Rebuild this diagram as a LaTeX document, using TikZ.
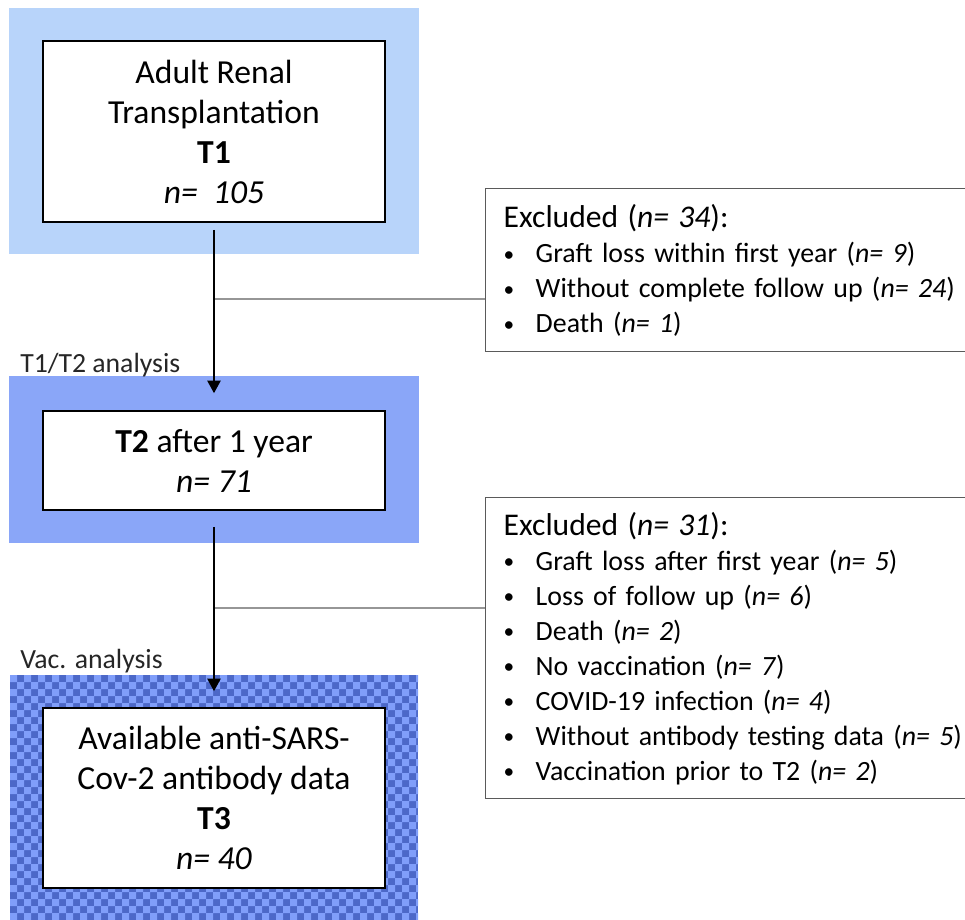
\documentclass[tikz,border=0pt]{standalone}
\usepackage{fontspec}
\setmainfont{Carlito}
\usetikzlibrary{arrows.meta}
\definecolor{regA}{RGB}{184,212,250}
\definecolor{regB}{RGB}{138,166,248}
\definecolor{chkD}{RGB}{76,104,200}
\definecolor{chkL}{RGB}{128,158,250}
\definecolor{exgray}{RGB}{90,90,90}
\definecolor{brgray}{RGB}{150,150,150}
\newcommand{\blt}{\makebox[24pt][l]{\raisebox{1pt}{\fontsize{16}{16}\selectfont\textbullet}}}
\begin{document}
\begin{tikzpicture}[x=0.75pt,y=-0.75pt,
  stage/.style={draw=black, line width=1.2pt, fill=white, minimum width=256.5pt, inner sep=0pt, align=center, font=\fontsize{25.2}{30}\selectfont},
  exbox/.style={draw=exgray, line width=1.1pt, fill=white, anchor=north west, inner xsep=13.5pt, inner ysep=0pt, text width=420pt, align=left, font=\fontsize{20.9}{26.25}\selectfont},
  lbl/.style={anchor=base west, inner sep=0pt, font=\fontsize{20.8}{24}\selectfont, text=black!85},
  flow/.style={line width=1.3pt, -{Triangle[width=10pt,length=9.5pt]}},
  branch/.style={draw=brgray, line width=0.8pt}]
\useasboundingbox (0,0) rectangle (965,920);
% stage backgrounds
\fill[regA] (9,8) rectangle (419,254);
\fill[regB] (9,376) rectangle (419,543);
\begin{scope}
\clip (10,675) rectangle (418,920);
\fill[chkD] (10,675) rectangle (418,920);
\fill[chkL] \foreach \i in {0,...,58} { \foreach \j in {0,2,...,34} { ({10+7*\i},{675+7*(\j+mod(\i,2))}) rectangle ++(7,7) } };
\end{scope}
% stage boxes
\node[stage, minimum height=135.75pt] (t1) at (214,131.5) {Adult Renal\\Transplantation\\\textbf{T1}\\\textit{n=\ \ 105}};
\node[stage, minimum height=74.25pt] (t2) at (214,460.5) {\textbf{T2} after 1 year\\\textit{n= 71}};
\node[stage, minimum height=135pt] (t3) at (214,798) {Available anti-SARS-\\Cov-2 antibody data\\\textbf{T3}\\\textit{n= 40}};
% labels
\node[lbl] (lab12) at (20,373) {T1/T2 analysis};
\node[lbl] (labvac) at (20,668) {Vac. analysis};
% exclusion boxes
\node[exbox, minimum height=122.25pt] (ex1) at (485,188) {{\fontsize{23.7}{26.25}\selectfont Excluded (\textit{n= 34}):}\\
\blt Graft loss within first year (\textit{n= 9})\\
\blt Without complete follow up (\textit{n= 24})\\
\blt Death (\textit{n= 1})};
\node[exbox, minimum height=225.75pt] (ex2) at (485,497) {{\fontsize{23.7}{26.25}\selectfont Excluded (\textit{n= 31}):}\\
\blt Graft loss after first year (\textit{n= 5})\\
\blt Loss of follow up (\textit{n= 6})\\
\blt Death (\textit{n= 2})\\
\blt No vaccination (\textit{n= 7})\\
\blt COVID-19 infection (\textit{n= 4})\\
\blt Without antibody testing data (\textit{n= 5})\\
\blt Vaccination prior to T2 (\textit{n= 2})};
% connectors
\coordinate (b1) at (214,299);
\coordinate (b2) at (214,608);
\draw[branch] (b1) -- (b1 -| ex1.west);
\draw[branch] (b2) -- (b2 -| ex2.west);
\draw[flow] ([yshift=-5.25pt]t1.south) -- ([yshift=12.75pt]t2.north);
\draw[flow] ([yshift=-12pt]t2.south) -- ([yshift=12pt]t3.north);
\end{tikzpicture}
\end{document}
